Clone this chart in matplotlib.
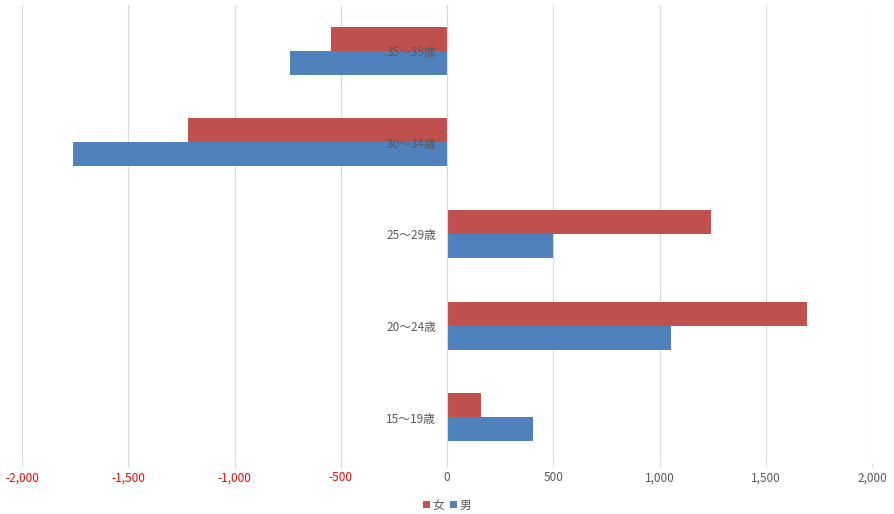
import matplotlib.pyplot as plt
import numpy as np
from matplotlib.ticker import FuncFormatter
from matplotlib.transforms import offset_copy

plt.rcParams['font.family'] = ['Noto Sans CJK JP', 'DejaVu Sans']

categories = ['15〜19歳', '20〜24歳', '25〜29歳', '30〜34歳', '35〜39歳']
female = [160, 1695, 1240, -1220, -548]
male = [405, 1055, 500, -1760, -740]
xticks = [-2000, -1500, -1000, -500, 0, 500, 1000, 1500, 2000]

red = '#C0504D'
blue = '#4F81BD'
gray = '#595959'

fig = plt.figure(figsize=(8.94, 5.14), dpi=100)
ax = fig.add_axes([22 / 894, 51 / 514, 850 / 894, 458 / 514])

y = np.arange(len(categories))
h = 0.2625
ax.barh(y + h / 2, female, height=h, color=red, label='女', zorder=2)
ax.barh(y - h / 2, male, height=h, color=blue, label='男', zorder=2)

ax.set_xlim(-2000, 2000)
ax.set_ylim(-0.5, len(categories) - 0.5)
ax.set_xticks(xticks)
ax.xaxis.set_major_formatter(FuncFormatter(lambda v, p: f'{int(v):,}'))
ax.grid(axis='x', color='#D9D9D9', linewidth=0.8, zorder=0)
ax.tick_params(axis='x', length=3, color='#D9D9D9', labelsize=8.5, labelcolor=gray, pad=3)
for lbl, v in zip(ax.get_xticklabels(), xticks):
    if v < 0:
        lbl.set_color('red')

for s in ['top', 'right', 'bottom']:
    ax.spines[s].set_visible(False)
ax.spines['left'].set_position(('data', 0))
ax.spines['left'].set_color('#D9D9D9')
ax.spines['left'].set_linewidth(0.8)
ax.set_yticks(y)
ax.set_yticklabels([])
ax.tick_params(axis='y', length=0)

# category labels drawn on top of the bars, just left of zero
trans = offset_copy(ax.transData, fig=fig, x=-11, y=-2, units='dots')
for yi, cat in zip(y, categories):
    ax.text(0, yi, cat, transform=trans, ha='right', va='center',
            fontsize=8.5, color=gray, zorder=5)

ax.legend(loc='upper center', bbox_to_anchor=(0.5, -0.055), ncol=2, frameon=False,
          fontsize=8.5, labelcolor=gray, handlelength=0.6, handleheight=0.6,
          handletextpad=0.2, columnspacing=0.5)

plt.savefig('out.png', dpi=100)
